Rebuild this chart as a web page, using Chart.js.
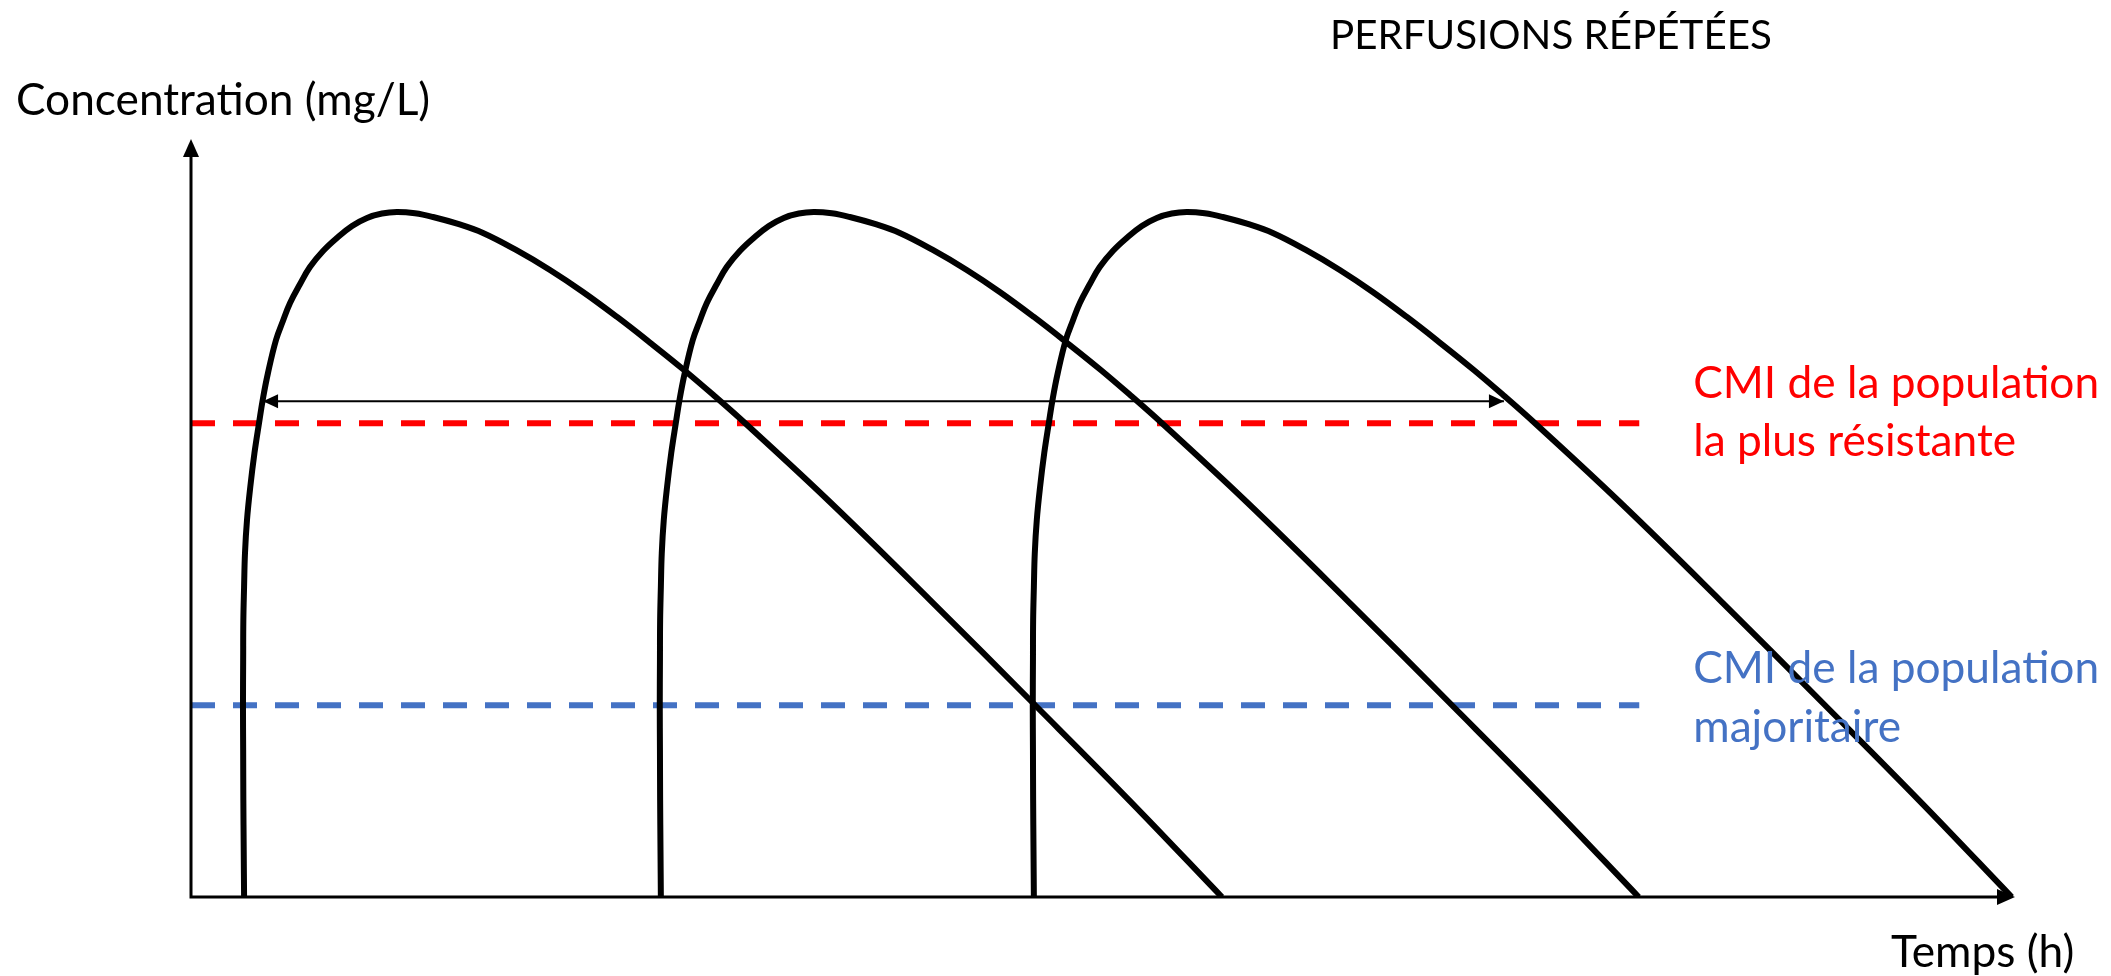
<!DOCTYPE html>
<html lang="fr">
<head>
<meta charset="utf-8">
<title>Perfusions répétées</title>
<script src="https://cdn.jsdelivr.net/npm/chart.js@4.4.1/dist/chart.umd.min.js"></script>
<style>
  html, body { margin: 0; padding: 0; background: #fff; }
  canvas { display: block; }
</style>
</head>
<body>
<canvas id="chart" width="2111" height="976"></canvas>
<script>
// Concentration (mg/L) along each infusion curve.
// The three curves have the same heights, only the times differ.
const concentration = [0, 6.20, 12.80, 19.39, 25.20, 31.27, 36.54, 40.90, 45.38, 49.74, 54.09, 58.58,
  62.53, 65.83, 69.13, 73.48, 75.99, 78.36, 80.87, 83.11, 85.22, 86.94, 88.52, 89.58, 90.17, 90.37,
  90.20, 89.71, 88.79, 87.60, 85.36, 82.72, 79.82, 76.52, 73.15, 69.53, 66.16, 62.53,
  52.11, 39.18, 25.33, 12.66, 0];

// Time (h) of each point, one array per infusion
const perf1Time = [2.91, 2.89, 2.87, 2.86, 2.85, 2.86, 2.87, 2.91, 2.96, 3.07, 3.25, 3.48,
  3.73, 3.95, 4.22, 4.66, 5.04, 5.43, 5.98, 6.52, 7.24, 8.00, 8.83, 9.65, 10.47, 11.29,
  12.28, 13.27, 14.64, 16.01, 17.82, 19.68, 21.49, 23.36, 25.16, 27.03, 28.67, 30.37,
  35.03, 40.52, 46.27, 51.48, 56.52];
const perf2Time = [25.76, 25.74, 25.72, 25.71, 25.70, 25.71, 25.72, 25.76, 25.81, 25.92, 26.10, 26.33,
  26.58, 26.80, 27.07, 27.51, 27.89, 28.28, 28.83, 29.37, 30.09, 30.85, 31.68, 32.50, 33.32, 34.14,
  35.13, 36.12, 37.49, 38.86, 40.67, 42.53, 44.34, 46.21, 48.01, 49.88, 51.52, 53.22,
  57.88, 63.37, 69.12, 74.33, 79.37];
const perf3Time = [46.21, 46.19, 46.17, 46.16, 46.15, 46.16, 46.17, 46.21, 46.26, 46.37, 46.55, 46.78,
  47.03, 47.25, 47.52, 47.96, 48.34, 48.73, 49.28, 49.82, 50.54, 51.30, 52.13, 52.95, 53.77, 54.59,
  55.58, 56.57, 57.94, 59.31, 61.12, 62.98, 64.79, 66.66, 68.46, 70.33, 71.97, 73.67,
  78.33, 83.82, 89.57, 94.78, 99.82];

// CMI thresholds (mg/L) and where the dashed lines stop
const cmiResistant = 62.5;
const cmiMajority = 25.3;
const cmiLineEnd = 79.4;

// Double arrow just above the red threshold
const arrowLevel = 65.4;
const arrowStart = 3.95;
const arrowEnd = 71.98;

// Texts
const titleText = "PERFUSIONS RÉPÉTÉES";
const yAxisText = "Concentration (mg/L)";
const xAxisText = "Temps (h)";
const resistantLabel = ["CMI de la population", "la plus résistante"];
const majorityLabel = ["CMI de la population", "majoritaire"];

const RED = "#ff0000";
const BLUE = "#4472c4";
const FONT = "Lato, 'Open Sans', sans-serif";

function toPoints(xs, ys) {
    return xs.map((x, i) => ({ x: x, y: ys[i] }));
}

function curve(times) {
    return {
        data: toPoints(times, concentration),
        showLine: true,
        borderColor: "#000",
        borderWidth: 6,
        tension: 0.4,
        pointRadius: 0,
        fill: false
    };
}

function threshold(level, color) {
    return {
        data: [{ x: 0, y: level }, { x: cmiLineEnd, y: level }],
        showLine: true,
        borderColor: color,
        borderWidth: 6,
        borderDash: [24, 18],
        pointRadius: 0,
        fill: false
    };
}

// font size that makes the text take the given width
function fitSize(ctx, text, width) {
    ctx.font = "100px " + FONT;
    return 100 * width / ctx.measureText(text).width;
}

function arrowHead(ctx, tipX, tipY, angle, len, half) {
    ctx.save();
    ctx.translate(tipX, tipY);
    ctx.rotate(angle);
    ctx.beginPath();
    ctx.moveTo(0, 0);
    ctx.lineTo(-len, -half);
    ctx.lineTo(-len, half);
    ctx.closePath();
    ctx.fill();
    ctx.restore();
}

const extras = {
    id: "extras",
    afterDraw(chart) {
        const ctx = chart.ctx;
        const xs = chart.scales.x;
        const ys = chart.scales.y;
        const x0 = xs.getPixelForValue(0);
        const y0 = ys.getPixelForValue(0);
        const xMax = xs.getPixelForValue(100);
        const yMax = ys.getPixelForValue(100);

        ctx.save();
        ctx.fillStyle = "#000";
        ctx.strokeStyle = "#000";

        // axes with arrow tips
        ctx.lineWidth = 3;
        ctx.beginPath();
        ctx.moveTo(x0, y0);
        ctx.lineTo(x0, yMax + 8);
        ctx.moveTo(x0 - 1.5, y0);
        ctx.lineTo(xMax - 8, y0);
        ctx.stroke();
        arrowHead(ctx, x0, yMax, -Math.PI / 2, 18, 8);
        arrowHead(ctx, xMax, y0, 0, 18, 8);

        // tips of the double arrow
        const ay = ys.getPixelForValue(arrowLevel);
        arrowHead(ctx, xs.getPixelForValue(arrowStart), ay, Math.PI, 15, 7);
        arrowHead(ctx, xs.getPixelForValue(arrowEnd), ay, 0, 15, 7);

        // texts
        ctx.textBaseline = "middle";
        ctx.textAlign = "left";

        let size = fitSize(ctx, titleText, 442);
        ctx.font = size + "px " + FONT;
        ctx.fillText(titleText, 1330, 36);

        size = fitSize(ctx, resistantLabel[0], 406);
        ctx.font = size + "px " + FONT;
        ctx.fillText(yAxisText, 16, 101);
        ctx.fillText(xAxisText, 1891, 953);

        const labelX = xs.getPixelForValue(cmiLineEnd) + 54;
        const ry = ys.getPixelForValue(cmiResistant);
        ctx.fillStyle = RED;
        ctx.fillText(resistantLabel[0], labelX, ry - 40);
        ctx.fillText(resistantLabel[1], labelX, ry + 18);

        const by = ys.getPixelForValue(cmiMajority);
        ctx.fillStyle = BLUE;
        ctx.fillText(majorityLabel[0], labelX, by - 36);
        ctx.fillText(majorityLabel[1], labelX, by + 23);

        ctx.restore();
    }
};

new Chart(document.getElementById("chart"), {
    type: "scatter",
    data: {
        datasets: [
            curve(perf1Time),
            curve(perf2Time),
            curve(perf3Time),
            {
                data: [{ x: arrowStart, y: arrowLevel }, { x: arrowEnd, y: arrowLevel }],
                showLine: true,
                borderColor: "#000",
                borderWidth: 2,
                pointRadius: 0
            },
            threshold(cmiResistant, RED),
            threshold(cmiMajority, BLUE)
        ]
    },
    options: {
        responsive: false,
        animation: false,
        layout: { padding: { left: 191, right: 96, top: 139, bottom: 79 } },
        scales: {
            x: { type: "linear", min: 0, max: 100, display: false },
            y: { type: "linear", min: 0, max: 100, display: false }
        },
        plugins: {
            legend: { display: false },
            tooltip: { enabled: false }
        }
    },
    plugins: [extras]
});
</script>
</body>
</html>
